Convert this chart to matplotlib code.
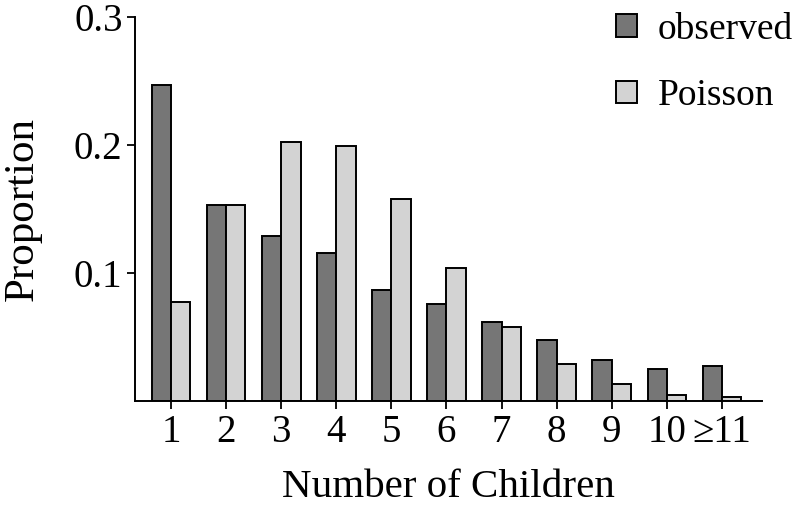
import numpy as np
import matplotlib.pyplot as plt
from matplotlib.patches import Patch

plt.rcParams['font.family'] = ['Liberation Serif', 'DejaVu Serif']

# data
children = ['1', '2', '3', '4', '5', '6', '7', '8', '9', '10', '≥11']
observed = [0.247, 0.153, 0.129, 0.116, 0.087, 0.076, 0.062, 0.048, 0.032, 0.025, 0.027]
poisson = [0.077, 0.153, 0.202, 0.199, 0.158, 0.104, 0.058, 0.029, 0.013, 0.005, 0.003]

x = np.arange(1, len(children) + 1)
w = 0.35

fig = plt.figure(figsize=(7.97, 5.07), dpi=100)
ax = fig.add_axes([135 / 797, 1 - 401 / 507, (762 - 135) / 797, (401 - 17) / 507])

ax.bar(x - w / 2, observed, width=w, color='#767676', edgecolor='black', linewidth=1.4)
ax.bar(x + w / 2, poisson, width=w, color='#d3d3d3', edgecolor='black', linewidth=1.4)

ax.set_xlim(1 - 36 / 55, 11 + 40 / 55)
ax.set_ylim(0, 0.3)
ax.set_xticks(x)
ax.set_xticklabels(children)
ax.set_yticks([0.1, 0.2, 0.3])
ax.set_yticklabels(['0.1', '0.2', '0.3'])
ax.tick_params(labelsize=28, width=1.3, length=6, direction='out', pad=3)

for s in ['top', 'right']:
    ax.spines[s].set_visible(False)
for s in ['left', 'bottom']:
    ax.spines[s].set_linewidth(1.4)

ax.set_xlabel('Number of Children', fontsize=29.5, labelpad=13)
ax.set_ylabel('Proportion', fontsize=31, labelpad=23)

handles = [Patch(facecolor='#767676', edgecolor='black', linewidth=1.4),
           Patch(facecolor='#d3d3d3', edgecolor='black', linewidth=1.4)]
ax.legend(handles, ['observed', 'Poisson'], loc='upper right',
          bbox_to_anchor=(1 + 22 / 797, 1 + 14 / 507), bbox_transform=fig.transFigure,
          frameon=False, fontsize=27, handlelength=0.55, handleheight=0.55,
          handletextpad=0.55, labelspacing=0.85, borderpad=0.2)

fig.savefig('out.png', dpi=100)
